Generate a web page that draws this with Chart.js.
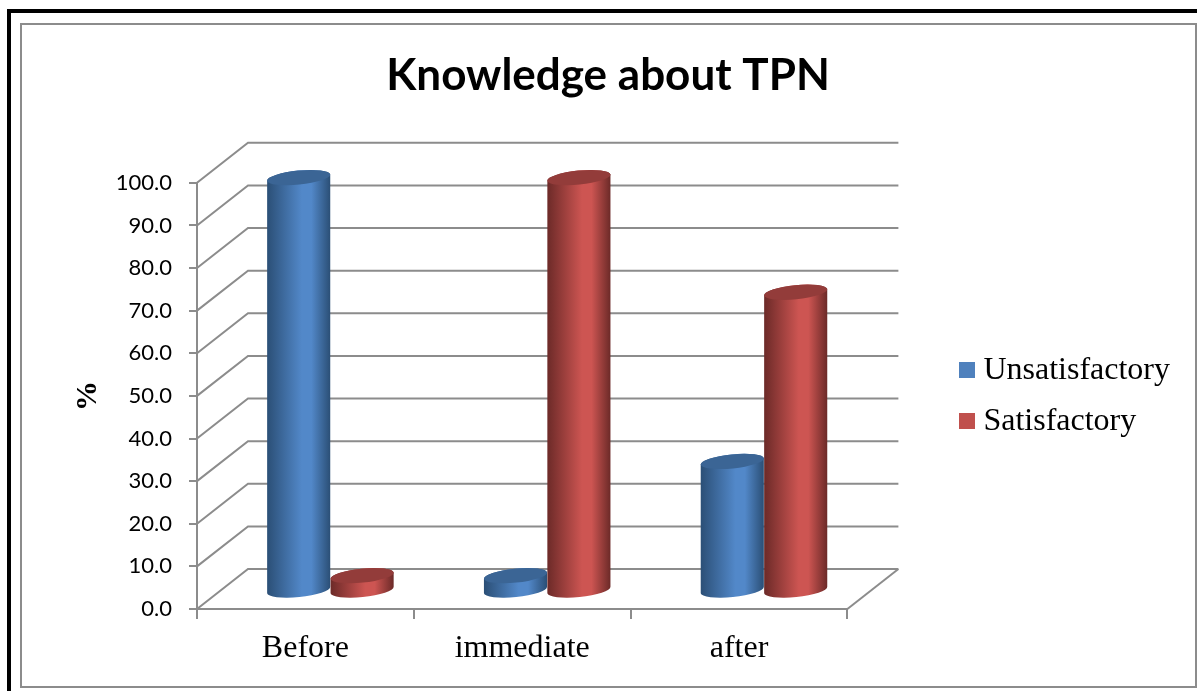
<!DOCTYPE html>
<html>
<head>
<meta charset="utf-8">
<title>Knowledge about TPN</title>
<script src="https://cdn.jsdelivr.net/npm/chart.js@4"></script>
<style>
  html, body { margin: 0; padding: 0; background: #fff; overflow: hidden; }
  #outer { position: absolute; left: 7px; top: 9px; width: 1190px; height: 682px; border-top: 4px solid #000; border-left: 4px solid #000; box-sizing: border-box; }
  #inner { position: absolute; left: 20px; top: 23px; width: 1177px; height: 665px; border: 2px solid #8c8c8c; box-sizing: border-box; }
  canvas { position: absolute; left: 0; top: 0; }
</style>
</head>
<body>
<div id="outer"></div>
<div id="inner"></div>
<canvas id="myChart" width="1197" height="691"></canvas>
<script>
const categories = ["Before", "immediate", "after"]
const unsatisfactory = [97.0, 3.6, 30.4]
const satisfactory = [3.6, 97.0, 70.1]
const titleText = "Knowledge about TPN"
const yAxisTitle = "%"

// fake 3d look, same depth as the original office chart
const wallDx = 51
const wallDy = -40
const barDx = 25
const barDy = -18
const gridColor = "#8c8c8c"

const shades = [
  { edge: "#2b4f76", mid: "#5288c9", top: "#3b6595" },
  { edge: "#6c2a28", mid: "#cd5552", top: "#933c3a" }
]

function swatch(color) {
  const c = document.createElement("canvas")
  c.width = 16
  c.height = 16
  const g = c.getContext("2d")
  g.fillStyle = color
  g.fillRect(0, 0, 16, 16)
  return c
}

const wallsPlugin = {
  id: "walls",
  beforeDatasetsDraw(chart) {
    const { ctx, chartArea, scales } = chart
    ctx.save()
    ctx.strokeStyle = gridColor
    ctx.lineWidth = 2
    scales.y.ticks.forEach((t) => {
      const y = scales.y.getPixelForValue(t.value)
      ctx.beginPath()
      ctx.moveTo(chartArea.left, y)
      ctx.lineTo(chartArea.left + wallDx, y + wallDy)
      ctx.lineTo(chartArea.right + wallDx, y + wallDy)
      ctx.stroke()
    })
    // floor edge on the right
    ctx.beginPath()
    ctx.moveTo(chartArea.right, chartArea.bottom)
    ctx.lineTo(chartArea.right + wallDx, chartArea.bottom + wallDy)
    ctx.stroke()
    ctx.restore()
  }
}

function drawCylinder(ctx, bar, shade) {
  const rx = bar.width / 2
  const ry = 7
  const tilt = 0.1
  const cx = bar.x + barDx
  const topY = bar.y + barDy
  const baseY = bar.base + barDy
  const ox = rx * Math.cos(tilt)
  const oy = rx * Math.sin(tilt)

  const grad = ctx.createLinearGradient(cx - ox, 0, cx + ox, 0)
  grad.addColorStop(0, shade.edge)
  grad.addColorStop(0.55, shade.mid)
  grad.addColorStop(0.7, shade.mid)
  grad.addColorStop(1, shade.edge)

  ctx.beginPath()
  ctx.moveTo(cx - ox, topY + oy)
  ctx.lineTo(cx - ox, baseY + oy)
  ctx.ellipse(cx, baseY, rx, ry, -tilt, Math.PI, 0, true)
  ctx.lineTo(cx + ox, topY - oy)
  ctx.ellipse(cx, topY, rx, ry, -tilt, 0, Math.PI, true)
  ctx.closePath()
  ctx.fillStyle = grad
  ctx.fill()

  ctx.beginPath()
  ctx.ellipse(cx, topY, rx, ry, -tilt, 0, Math.PI * 2)
  ctx.fillStyle = shade.top
  ctx.fill()
}

const cylindersPlugin = {
  id: "cylinders",
  beforeDatasetsDraw(chart) {
    chart.data.datasets.forEach((ds, i) => {
      chart.getDatasetMeta(i).data.forEach((bar) => {
        drawCylinder(chart.ctx, bar, shades[i])
      })
    })
    return false
  }
}

// empty axes, they only hold space around the legend
function spacerAxis(width, weight) {
  return {
    type: "linear",
    position: "right",
    weight: weight,
    afterFit: (s) => { s.width = width },
    grid: { display: false },
    border: { display: false },
    ticks: { display: false }
  }
}

new Chart(document.getElementById("myChart"), {
  type: "bar",
  data: {
    labels: categories,
    datasets: [
      { label: "Unsatisfactory", data: unsatisfactory, backgroundColor: "#4f81bd" },
      { label: "Satisfactory", data: satisfactory, backgroundColor: "#c0504d" }
    ]
  },
  plugins: [wallsPlugin, cylindersPlugin],
  options: {
    responsive: false,
    animation: false,
    layout: { padding: { left: 20, right: 1, top: 0, bottom: 0 } },
    datasets: { bar: { categoryPercentage: 0.585, barPercentage: 1 } },
    scales: {
      x: {
        afterFit: (s) => { s.height = 82 },
        grid: { drawOnChartArea: false, tickLength: 10, color: gridColor, lineWidth: 2 },
        border: { color: gridColor, width: 2 },
        ticks: { color: "#000", padding: 10, maxRotation: 0, font: { family: "Liberation Serif", size: 32 } }
      },
      y: {
        min: 0,
        max: 100,
        afterFit: (s) => { s.width = 177 },
        grid: { drawOnChartArea: false, tickLength: 8, color: gridColor, lineWidth: 2 },
        border: { color: gridColor, width: 2 },
        ticks: {
          stepSize: 10,
          color: "#000",
          padding: 17,
          font: { family: "Lato", size: 22 },
          callback: (v) => v.toFixed(1)
        },
        title: {
          display: true,
          text: yAxisTitle,
          color: "#000",
          padding: { top: 50, bottom: 0 },
          font: { family: "Liberation Serif", size: 30, weight: "bold" }
        }
      },
      gap: spacerAxis(100, 0),
      margin: spacerAxis(16, 2000)
    },
    plugins: {
      title: {
        display: true,
        text: titleText,
        color: "#000",
        padding: { top: 49, bottom: 81 },
        font: { family: "Lato", size: 44, weight: "bold" }
      },
      legend: {
        position: "right",
        fullSize: false,
        maxWidth: 240,
        labels: {
          usePointStyle: true,
          pointStyleWidth: 1,
          padding: 19,
          color: "#000",
          font: { family: "Liberation Serif", size: 32 },
          generateLabels: (chart) => chart.data.datasets.map((ds, i) => ({
            text: ds.label,
            fontColor: "#000",
            pointStyle: swatch(ds.backgroundColor),
            datasetIndex: i
          }))
        }
      },
      tooltip: { enabled: false }
    }
  }
})
</script>
</body>
</html>
